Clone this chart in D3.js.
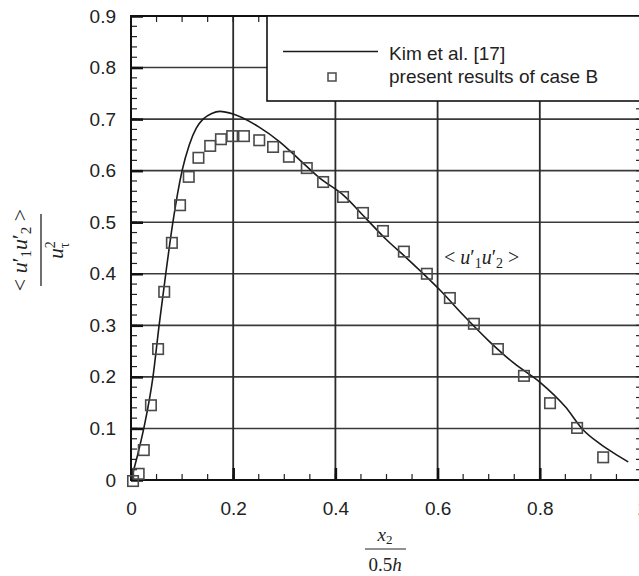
<!DOCTYPE html>
<html>
<head>
<meta charset="utf-8">
<script src="https://cdn.jsdelivr.net/npm/d3@7"></script>
<style>
  body { margin: 0; background: #fff; }
  svg { display: block; }
</style>
</head>
<body>
<div id="chart"></div>
<script>
// Kim et al. [17] reference curve
const kimX = [0, 0.012, 0.025, 0.043, 0.055, 0.068, 0.082, 0.1, 0.114, 0.128, 0.141, 0.158, 0.174, 0.2, 0.25, 0.291, 0.331, 0.37, 0.415, 0.46, 0.5, 0.54, 0.571, 0.605, 0.65, 0.7, 0.75, 0.8, 0.85, 0.885, 0.918, 0.945, 0.973];
const kimY = [0, 0.045, 0.1, 0.2, 0.3, 0.4, 0.5, 0.6, 0.65, 0.683, 0.7, 0.711, 0.715, 0.71, 0.685, 0.656, 0.62, 0.585, 0.553, 0.507, 0.466, 0.43, 0.401, 0.368, 0.32, 0.27, 0.226, 0.19, 0.142, 0.097, 0.07, 0.052, 0.035];

// present results of case B
const caseX = [0.004, 0.015, 0.025, 0.039, 0.053, 0.065, 0.080, 0.096, 0.113, 0.132, 0.155, 0.176, 0.198, 0.221, 0.251, 0.278, 0.309, 0.344, 0.376, 0.415, 0.454, 0.493, 0.534, 0.579, 0.624, 0.671, 0.718, 0.769, 0.820, 0.873, 0.924];
const caseY = [-0.002, 0.012, 0.058, 0.145, 0.254, 0.365, 0.46, 0.533, 0.588, 0.625, 0.648, 0.661, 0.667, 0.667, 0.659, 0.646, 0.627, 0.605, 0.578, 0.549, 0.518, 0.483, 0.443, 0.400, 0.353, 0.303, 0.254, 0.202, 0.149, 0.101, 0.044];

const xTicks = [0, 0.2, 0.4, 0.6, 0.8, 1];
const yTicks = [0, 0.1, 0.2, 0.3, 0.4, 0.5, 0.6, 0.7, 0.8, 0.9];
const legendLabels = ["Kim et al. [17]", "present results of case B"];

const W = 639, H = 576;
const margin = {top: 16, left: 131},
    width = 511,
    height = 464;
const sans = "'Liberation Sans', Arial, sans-serif";
const serif = "'Liberation Serif', 'Times New Roman', serif";

const svg = d3.select("#chart").append("svg")
    .attr("width", W)
    .attr("height", H);

const g = svg.append("g")
    .attr("transform", "translate(" + margin.left + "," + margin.top + ")");

const x = d3.scaleLinear().domain([0, 1]).range([0, width]);
const y = d3.scaleLinear().domain([0, 0.9]).range([height, 0]);

// grid
g.append("g").selectAll("line")
    .data(yTicks.slice(1))
    .join("line")
    .attr("x1", 0).attr("x2", width)
    .attr("y1", d => y(d)).attr("y2", d => y(d))
    .attr("stroke", "#3a3a3a").attr("stroke-width", 1.6);
g.append("g").selectAll("line")
    .data(xTicks.slice(1))
    .join("line")
    .attr("x1", d => x(d)).attr("x2", d => x(d))
    .attr("y1", 0).attr("y2", height)
    .attr("stroke", "#2a2a2a").attr("stroke-width", 1.8);

// minor ticks, inside on all four sides
const xMinor = d3.range(0, 1.0001, 0.05);
const yMinor = d3.range(0, 0.9001, 0.02);
const tickG = g.append("g").attr("stroke", "#222").attr("stroke-width", 1.2);
tickG.selectAll(".xb").data(xMinor).join("line")
    .attr("x1", d => x(d)).attr("x2", d => x(d))
    .attr("y1", height).attr("y2", height - 6);
tickG.selectAll(".xt").data(xMinor).join("line")
    .attr("x1", d => x(d)).attr("x2", d => x(d))
    .attr("y1", 0).attr("y2", 6);
tickG.selectAll(".yl").data(yMinor).join("line")
    .attr("x1", 0).attr("x2", 6)
    .attr("y1", d => y(d)).attr("y2", d => y(d));
tickG.selectAll(".yr").data(yMinor).join("line")
    .attr("x1", width).attr("x2", width - 6)
    .attr("y1", d => y(d)).attr("y2", d => y(d));

// axes (major ticks inside)
const xAxis = g.append("g")
    .attr("transform", "translate(0," + height + ")")
    .call(d3.axisBottom(x).tickValues(xTicks).tickSizeInner(-12).tickSizeOuter(0).tickPadding(22)
        .tickFormat(d => d3.format("")(d)));
const yAxis = g.append("g")
    .call(d3.axisLeft(y).tickValues(yTicks).tickSizeInner(-12).tickSizeOuter(0).tickPadding(15)
        .tickFormat(d => d3.format("")(d)));
[xAxis, yAxis].forEach(a => {
    a.select(".domain").remove();
    a.selectAll(".tick line").attr("stroke", "#111").attr("stroke-width", 2.5);
    a.selectAll(".tick text")
        .style("font-family", sans)
        .style("font-size", "19px")
        .attr("fill", "#222");
});
xAxis.selectAll(".tick text").attr("dy", "0.71em");

// frame
g.append("rect")
    .attr("width", width).attr("height", height)
    .attr("fill", "none").attr("stroke", "#111").attr("stroke-width", 2);

// Kim et al. line
const line = d3.line()
    .x((d, i) => x(kimX[i]))
    .y((d, i) => y(kimY[i]))
    .curve(d3.curveMonotoneX);
g.append("path")
    .attr("d", line(kimX))
    .attr("fill", "none")
    .attr("stroke", "#1a1a1a")
    .attr("stroke-width", 1.6);

// case B squares
const sq = 10.5;
g.append("g").selectAll("rect")
    .data(caseX)
    .join("rect")
    .attr("x", (d, i) => x(caseX[i]) - sq / 2)
    .attr("y", (d, i) => y(caseY[i]) - sq / 2)
    .attr("width", sq).attr("height", sq)
    .attr("fill", "none")
    .attr("stroke", "#4a4a4a")
    .attr("stroke-width", 1.6);

// legend
const lg = svg.append("g").attr("transform", "translate(267,16)");
lg.append("rect")
    .attr("width", 380).attr("height", 85)
    .attr("fill", "#fff").attr("stroke", "#111").attr("stroke-width", 1.6);
lg.append("line")
    .attr("x1", 16).attr("x2", 111).attr("y1", 35.5).attr("y2", 35.5)
    .attr("stroke", "#1a1a1a").attr("stroke-width", 1.6);
lg.append("rect")
    .attr("x", 61).attr("y", 57).attr("width", 8).attr("height", 8)
    .attr("fill", "none").attr("stroke", "#4a4a4a").attr("stroke-width", 1.5);
lg.selectAll("text.lab")
    .data(legendLabels)
    .join("text")
    .attr("class", "lab")
    .attr("x", 122)
    .attr("y", (d, i) => 44 + i * 23)
    .style("font-family", sans)
    .style("font-size", "19px")
    .attr("fill", "#222")
    .text(d => d);

// < u'1 u'2 > written with tspans
function uu(sel, fs) {
    const sub = Math.round(fs * 0.7);
    sel.append("tspan").text("< ");
    sel.append("tspan").attr("font-style", "italic").text("u");
    sel.append("tspan").text("\u2032");
    sel.append("tspan").attr("font-size", sub).attr("dy", 4).text("1");
    sel.append("tspan").attr("font-style", "italic").attr("dy", -4).text("u");
    sel.append("tspan").text("\u2032");
    sel.append("tspan").attr("font-size", sub).attr("dy", 4).text("2");
    sel.append("tspan").attr("dy", -4).text(" >");
}
const ann = svg.append("text")
    .attr("x", 444).attr("y", 264)
    .style("font-family", serif).style("font-size", "20px")
    .attr("fill", "#222");
uu(ann, 20);

// y label as a rotated fraction
const yl = svg.append("g").attr("transform", "translate(41,250) rotate(-90)");
const num = yl.append("text")
    .attr("x", 0).attr("y", -14)
    .attr("text-anchor", "middle")
    .style("font-family", serif).style("font-size", "22px")
    .attr("fill", "#222");
uu(num, 22);
yl.append("line")
    .attr("x1", -36).attr("x2", 36).attr("y1", 0).attr("y2", 0)
    .attr("stroke", "#222").attr("stroke-width", 1.3);
const den = yl.append("text")
    .attr("x", 0).attr("y", 22)
    .attr("text-anchor", "middle")
    .style("font-family", serif).style("font-size", "21px")
    .attr("fill", "#222");
den.append("tspan").attr("font-style", "italic").text("u");
den.append("tspan").attr("font-size", 14).attr("dy", -8).text("2");
den.append("tspan").attr("font-size", 14).attr("dx", -7).attr("dy", 14).text("\u03c4");

// x label as a fraction
const xl = svg.append("g").attr("transform", "translate(385,549)");
const xn = xl.append("text")
    .attr("x", 0).attr("y", -8)
    .attr("text-anchor", "middle")
    .style("font-family", serif).style("font-size", "19px")
    .attr("fill", "#222");
xn.append("tspan").attr("font-style", "italic").text("x");
xn.append("tspan").attr("font-size", 13).attr("dy", 3).text("2");
xl.append("line")
    .attr("x1", -20).attr("x2", 21).attr("y1", 0).attr("y2", 0)
    .attr("stroke", "#222").attr("stroke-width", 1.2);
const xd = xl.append("text")
    .attr("x", 0).attr("y", 22)
    .attr("text-anchor", "middle")
    .style("font-family", serif).style("font-size", "19px")
    .attr("fill", "#222");
xd.append("tspan").text("0.5");
xd.append("tspan").attr("font-style", "italic").text("h");
</script>
</body>
</html>
